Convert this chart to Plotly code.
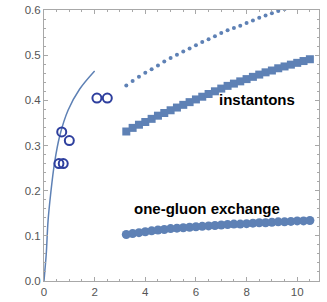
import plotly.graph_objects as go

# solid curve
curve_x = [0.0, 0.03, 0.09, 0.16, 0.26, 0.42, 0.62, 0.95, 1.41, 2.0]
curve_y = [0.0, 0.02, 0.061, 0.133, 0.191, 0.263, 0.321, 0.378, 0.425, 0.465]

# open circle data points
open_x = [0.59, 0.76, 0.70, 1.00, 2.09, 2.50]
open_y = [0.260, 0.260, 0.330, 0.311, 0.405, 0.405]

# dotted series
dot_x = [3.25, 3.5, 3.75, 4.0, 4.25, 4.5, 4.75, 5.0, 5.25, 5.5, 5.75, 6.0, 6.25,
         6.5, 6.75, 7.0, 7.25, 7.5, 7.75, 8.0, 8.25, 8.5, 8.75, 9.0, 9.25, 9.5]
dot_y = [0.433, 0.443, 0.452, 0.461, 0.469, 0.477, 0.486, 0.494, 0.501, 0.508,
         0.515, 0.522, 0.529, 0.535, 0.542, 0.549, 0.555, 0.560, 0.565, 0.571,
         0.577, 0.583, 0.588, 0.593, 0.598, 0.602]

# instantons (squares)
inst_x = [3.25, 3.5, 3.75, 4.0, 4.25, 4.5, 4.75, 5.0, 5.25, 5.5, 5.75, 6.0, 6.25,
          6.5, 6.75, 7.0, 7.25, 7.5, 7.75, 8.0, 8.25, 8.5, 8.75, 9.0, 9.25, 9.5,
          9.75, 10.0, 10.25, 10.5]
inst_y = [0.331, 0.339, 0.346, 0.352, 0.359, 0.366, 0.372, 0.378, 0.384, 0.390,
          0.396, 0.402, 0.408, 0.414, 0.420, 0.426, 0.432, 0.437, 0.442, 0.447,
          0.452, 0.457, 0.462, 0.466, 0.471, 0.475, 0.479, 0.483, 0.487, 0.491]

# one-gluon exchange (filled circles)
oge_x = inst_x
oge_y = [0.103, 0.105, 0.107, 0.109, 0.111, 0.113, 0.114, 0.116, 0.117, 0.118,
         0.119, 0.120, 0.121, 0.122, 0.123, 0.124, 0.125, 0.126, 0.126, 0.127,
         0.128, 0.129, 0.129, 0.130, 0.131, 0.131, 0.132, 0.133, 0.133, 0.134]

x_ticks = [0, 2, 4, 6, 8, 10]
y_ticks = [0.0, 0.1, 0.2, 0.3, 0.4, 0.5, 0.6]
y_tick_labels = ["0.0", "0.1", "0.2", "0.3", "0.4", "0.5", "0.6"]

blue = "#5E81B5"
dark = "#2E3F9E"

fig = go.Figure()
fig.add_trace(go.Scatter(x=curve_x, y=curve_y, mode="lines", line_shape="spline",
                         line=dict(color=blue, width=1.5)))
fig.add_trace(go.Scatter(x=open_x, y=open_y, mode="markers",
                         marker=dict(symbol="circle-open", size=9, color=dark,
                                     line=dict(width=2, color=dark))))
fig.add_trace(go.Scatter(x=dot_x, y=dot_y, mode="markers",
                         marker=dict(symbol="circle", size=4, color=blue)))
fig.add_trace(go.Scatter(x=inst_x, y=inst_y, mode="markers",
                         marker=dict(symbol="square", size=8, color=blue,
                                     line=dict(width=0))))
fig.add_trace(go.Scatter(x=oge_x, y=oge_y, mode="markers",
                         marker=dict(symbol="circle", size=9, color=blue,
                                     line=dict(width=0))))

fig.add_annotation(x=8.4, y=0.401, text="<b>instantons</b>", showarrow=False,
                   font=dict(family="Liberation Sans, Arial", size=15, color="black"))
fig.add_annotation(x=6.45, y=0.161, text="<b>one-gluon exchange</b>", showarrow=False,
                   font=dict(family="Liberation Sans, Arial", size=15, color="black"))

axis_common = dict(showline=True, linecolor="#A8A8A8", linewidth=1, mirror="allticks",
                   ticks="inside", ticklen=4, tickcolor="#A8A8A8", showgrid=False,
                   zeroline=False, ticklabeloverflow="allow",
                   tickfont=dict(family="Liberation Sans, Arial", size=11.5, color="#555555"))

fig.update_xaxes(range=[0, 10.86], tickvals=x_ticks, ticktext=[str(v) for v in x_ticks],
                 minor=dict(ticks="inside", dtick=0.5, ticklen=2, tickcolor="#A8A8A8"),
                 **axis_common)
fig.update_yaxes(range=[0, 0.6], tickvals=y_ticks, ticktext=y_tick_labels,
                 minor=dict(ticks="inside", dtick=0.02, ticklen=2, tickcolor="#A8A8A8"),
                 **axis_common)

fig.update_layout(width=327, height=302, showlegend=False,
                  margin=dict(l=44, r=8, t=4, b=20),
                  plot_bgcolor="white", paper_bgcolor="white")

fig.write_html("out.html", config={"displayModeBar": False},
               post_script="document.body.style.margin='0';document.body.style.overflow='hidden';")
